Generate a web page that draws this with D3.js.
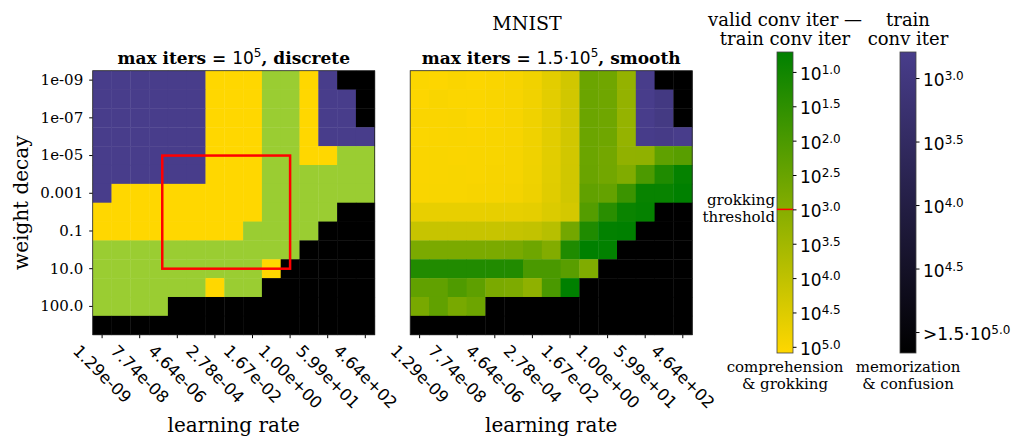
<!DOCTYPE html>
<html>
<head>
<meta charset="utf-8">
<script src="https://cdn.jsdelivr.net/npm/d3@7"></script>
<style>
  body { margin: 0; background: #fff; }
  svg { display: block; }
</style>
</head>
<body>
<div id="chart"></div>
<script>
// learning rate labels (every other column), weight decay labels (every other row)
const lrLabels = ["1.29e-09", "7.74e-08", "4.64e-06", "2.78e-04", "1.67e-02", "1.00e+00", "5.99e+01", "4.64e+02"];
const wdLabels = ["1e-09", "1e-07", "1e-05", "0.001", "0.1", "10.0", "100.0"];
const nCols = 15, nRows = 14;

// discrete map: P memorization, Y comprehension, G grokking, B confusion
const discreteRows = [
  "PPPPPPYYYGGYPBB",
  "PPPPPPYYYGGYPPB",
  "PPPPPPYYYGGYPPB",
  "PPPPPPYYYGGYPPP",
  "PPPPPPYYYGGYYGG",
  "PPPPPPYYYGGGGGG",
  "PYYYYYYYYGGGGGG",
  "YYYYYYYYYGGGGBB",
  "YYYYYYYYGGGGBBB",
  "GGGGGGGGGGGBBBB",
  "GGGGGGGGGYBBBBB",
  "GGGGGGYGGBBBBBB",
  "GGGGBBBBBBBBBBB",
  "BBBBBBBBBBBBBBB"
];

// smooth map: log10(valid conv iter - train conv iter); null = not converged
const smoothGrok = [
  [5.02, 5.05, 5.00, 5.04, 5.00, 4.95, 4.85, 4.61, 4.30, 2.55, 2.64, 3.25, null, null, null],
  [5.05, 4.98, 5.02, 5.02, 4.98, 4.95, 4.85, 4.61, 4.30, 2.55, 2.62, 3.25, null, null, null],
  [5.00, 5.00, 4.98, 5.03, 5.00, 4.96, 4.84, 4.61, 4.30, 2.55, 2.62, 3.27, null, null, null],
  [5.02, 5.00, 4.98, 5.00, 4.97, 4.95, 4.84, 4.60, 4.30, 2.55, 2.62, 3.27, null, null, null],
  [5.00, 4.98, 5.00, 4.98, 4.97, 4.93, 4.83, 4.60, 4.30, 2.55, 2.68, 3.20, 3.18, 2.35, 2.22],
  [5.00, 4.98, 4.97, 4.98, 4.95, 4.93, 4.82, 4.58, 4.28, 2.53, 2.66, 2.90, 2.02, 1.24, 0.80],
  [4.98, 4.97, 4.97, 4.95, 4.93, 4.90, 4.80, 4.55, 4.28, 2.37, 2.42, 1.72, 0.84, 0.84, 0.71],
  [4.70, 4.70, 4.70, 4.70, 4.68, 4.68, 4.65, 4.48, 4.35, 2.15, 1.41, 0.89, 0.80, null, null],
  [4.13, 4.13, 4.13, 4.12, 4.12, 4.10, 4.04, 3.86, 2.68, 1.24, 0.75, 0.71, null, null, null],
  [2.83, 2.83, 2.83, 2.83, 2.82, 2.79, 2.60, 2.95, 1.24, 0.71, 0.75, null, null, null, null],
  [1.28, 1.28, 1.28, 1.28, 1.28, 1.28, 1.98, 1.98, 2.24, 2.90, null, null, null, null, null],
  [2.37, 2.37, 2.07, 2.33, 2.81, 2.85, 3.16, 1.98, 0.71, null, null, null, null, null, null],
  [2.77, 2.37, 2.77, 2.59, null, null, null, null, null, null, null, null, null, null, null],
  [null, null, null, null, null, null, null, null, null, null, null, null, null, null, null]
];
// memorization cells of the smooth map: [row, col, log10(train conv iter)]
const smoothMem = [
  [0, 12, 2.80],
  [1, 12, 2.80], [1, 13, 2.95],
  [2, 12, 2.80], [2, 13, 2.93],
  [3, 12, 2.82], [3, 13, 2.86], [3, 14, 2.80]
];

// red box on the discrete map, in cell-centre coordinates
const boxLr = [3.2, 10.0], boxWd = [4.0, 10.0];

const grokTicks = [1, 1.5, 2, 2.5, 3, 3.5, 4, 4.5, 5];
const memTicks = [3, 3.5, 4, 4.5, 5];
const grokThreshold = 3;

const W = 1019, H = 437;
const serif = "'DejaVu Serif', serif";
const sans = "'DejaVu Sans', sans-serif";

const svg = d3.select("#chart").append("svg")
  .attr("width", W)
  .attr("height", H);

const mapW = 282, mapH = 264, mapTop = 70.7;

const x = d3.scaleBand().domain(d3.range(nCols)).range([0, mapW]);
const y = d3.scaleBand().domain(d3.range(nRows)).range([0, mapH]);
// centre coordinates for the red box
const xc = d3.scaleLinear().domain([-0.5, nCols - 0.5]).range([0, mapW]);
const yc = d3.scaleLinear().domain([-0.5, nRows - 0.5]).range([0, mapH]);

const catColor = { P: "#483d8b", Y: "#ffd700", G: "#9acd32", B: "#000000" };
const grokColor = d3.scaleLinear().domain([0.71, 5.09]).range(["#008000", "#ffd700"]).clamp(true);
const memColor = d3.scaleLinear().domain([2.795, 5.165]).range(["#483d8b", "#000000"]).clamp(true);

function addAxes(g, withY) {
  const xAxis = g.append("g")
    .attr("transform", "translate(0," + mapH + ")")
    .call(d3.axisBottom(x)
      .tickValues(d3.range(0, nCols, 2))
      .tickFormat(i => lrLabels[i / 2])
      .tickSize(3.5)
      .tickSizeOuter(0));
  xAxis.select(".domain").remove();
  xAxis.selectAll("text")
    .style("font-family", sans)
    .style("font-size", "16.5px")
    .attr("fill", "#000")
    .attr("y", null)
    .attr("dy", null)
    .attr("text-anchor", "middle")
    .style("dominant-baseline", "central")
    .attr("transform", function() {
      const L = this.getComputedTextLength();
      const half = (L + 18) / (2 * Math.SQRT2);
      return "translate(0," + (7 + half) + ") rotate(45)";
    });

  if (withY) {
    const yAxis = g.append("g")
      .call(d3.axisLeft(y)
        .tickValues(d3.range(0, nRows - 1, 2))
        .tickFormat(i => wdLabels[i / 2])
        .tickSize(3.5)
        .tickPadding(6)
        .tickSizeOuter(0));
    yAxis.select(".domain").remove();
    yAxis.selectAll("text")
      .style("font-family", serif)
      .style("font-size", "15px")
      .attr("fill", "#000");
  }

  g.append("rect")
    .attr("width", mapW)
    .attr("height", mapH)
    .attr("fill", "none")
    .attr("stroke", "#222")
    .attr("stroke-width", 0.8);

  g.append("text")
    .attr("x", mapW / 2)
    .attr("y", mapH + 97)
    .attr("text-anchor", "middle")
    .style("font-family", serif)
    .style("font-size", "20px")
    .text("learning rate");
}

function addTitle(g, pre, base, sup, post) {
  const t = g.append("text")
    .attr("x", mapW / 2)
    .attr("y", -7)
    .attr("text-anchor", "middle")
    .style("font-size", "17px");
  t.append("tspan").style("font-family", serif).style("font-weight", "bold").text(pre);
  t.append("tspan").style("font-family", sans).text(base);
  t.append("tspan").style("font-family", sans).style("font-size", "12px").attr("dy", -7).text(sup);
  t.append("tspan").style("font-family", serif).style("font-weight", "bold").attr("dy", 7).text(post);
}

// ---- left: discrete ----
const gL = svg.append("g").attr("transform", "translate(92.7," + mapTop + ")");
const discCells = [];
discreteRows.forEach((row, r) => row.split("").forEach((c, k) => discCells.push({ r: r, c: k, v: c })));
gL.selectAll("rect.cell")
  .data(discCells)
  .enter()
  .append("rect")
    .attr("class", "cell")
    .attr("x", d => x(d.c))
    .attr("y", d => y(d.r))
    .attr("width", x.bandwidth() + 0.4)
    .attr("height", y.bandwidth() + 0.4)
    .attr("fill", d => catColor[d.v]);

gL.append("rect")
  .attr("x", xc(boxLr[0]))
  .attr("y", yc(boxWd[0]))
  .attr("width", xc(boxLr[1]) - xc(boxLr[0]))
  .attr("height", yc(boxWd[1]) - yc(boxWd[0]))
  .attr("fill", "none")
  .attr("stroke", "#ff0000")
  .attr("stroke-width", 2.5);

addAxes(gL, true);
addTitle(gL, "max iters = ", "10", "5", ", discrete");

gL.append("text")
  .attr("transform", "translate(-65," + (mapH / 2) + ") rotate(-90)")
  .attr("text-anchor", "middle")
  .style("font-family", serif)
  .style("font-size", "20px")
  .text("weight decay");

// ---- right: smooth ----
const gR = svg.append("g").attr("transform", "translate(410.2," + mapTop + ")");
const smoothCells = [];
smoothGrok.forEach((row, r) => row.forEach((v, k) => smoothCells.push({ r: r, c: k, v: v, mem: null })));
smoothMem.forEach(m => { smoothCells[m[0] * nCols + m[1]].mem = m[2]; });
gR.selectAll("rect.cell")
  .data(smoothCells)
  .enter()
  .append("rect")
    .attr("class", "cell")
    .attr("x", d => x(d.c))
    .attr("y", d => y(d.r))
    .attr("width", x.bandwidth() + 0.4)
    .attr("height", y.bandwidth() + 0.4)
    .attr("fill", d => d.v != null ? grokColor(d.v) : (d.mem != null ? memColor(d.mem) : "#000"));

addAxes(gR, false);
addTitle(gR, "max iters = ", "1.5\u00b710", "5", ", smooth");

svg.append("text")
  .attr("x", 527)
  .attr("y", 30)
  .attr("text-anchor", "middle")
  .style("font-family", serif)
  .style("font-size", "19px")
  .text("MNIST");

// ---- colorbars ----
const barTop = 52, barBot = 353, barW = 16;
const defs = svg.append("defs");
function gradient(id, c0, c1) {
  const lg = defs.append("linearGradient").attr("id", id)
    .attr("x1", 0).attr("y1", 0).attr("x2", 0).attr("y2", 1);
  lg.append("stop").attr("offset", "0%").attr("stop-color", c0);
  lg.append("stop").attr("offset", "100%").attr("stop-color", c1);
}
gradient("gGrok", grokColor.range()[0], grokColor.range()[1]);
gradient("gMem", memColor.range()[0], memColor.range()[1]);

function colorbar(x0, scaleColor, grad, ticks, labelFn, title, foot) {
  const s = d3.scaleLinear().domain(scaleColor.domain()).range([barTop, barBot]);
  const g = svg.append("g").attr("transform", "translate(" + x0 + ",0)");
  g.append("rect")
    .attr("y", barTop).attr("width", barW).attr("height", barBot - barTop)
    .attr("fill", "url(#" + grad + ")")
    .attr("stroke", "#444").attr("stroke-width", 0.8);
  const ax = g.append("g")
    .attr("transform", "translate(" + barW + ",0)")
    .call(d3.axisRight(s).tickValues(ticks).tickSize(3.5).tickPadding(3.5).tickSizeOuter(0));
  ax.select(".domain").remove();
  ax.selectAll("text")
    .text(null)
    .attr("fill", "#000")
    .attr("dy", "0.44em")
    .style("font-family", sans)
    .style("font-size", "17px")
    .each(function(d, i) {
      const t = d3.select(this);
      t.append("tspan").text(labelFn(d, i));
      t.append("tspan").attr("dy", -6).style("font-size", "12px").text(d.toFixed(1));
    });
  title.forEach((line, i) => {
    g.append("text")
      .attr("x", barW / 2).attr("y", 26 + i * 19)
      .attr("text-anchor", "middle")
      .style("font-family", serif).style("font-size", "18px")
      .text(line);
  });
  foot.forEach((line, i) => {
    g.append("text")
      .attr("x", barW / 2).attr("y", 372 + i * 16.5)
      .attr("text-anchor", "middle")
      .style("font-family", serif).style("font-size", "15px")
      .text(line);
  });
  return { g: g, s: s };
}

const cbGrok = colorbar(777, grokColor, "gGrok", grokTicks, () => "10",
  ["valid conv iter \u2014", "train conv iter"], ["comprehension", "& grokking"]);
const cbMem = colorbar(900, memColor, "gMem", memTicks,
  (d, i) => i === memTicks.length - 1 ? ">1.5\u00b710" : "10",
  ["train", "conv iter"], ["memorization", "& confusion"]);

// grokking threshold marker
cbGrok.g.append("line")
  .attr("x1", 0).attr("x2", barW)
  .attr("y1", cbGrok.s(grokThreshold)).attr("y2", cbGrok.s(grokThreshold))
  .attr("stroke", "#ff0000").attr("stroke-width", 1.5);
["grokking", "threshold"].forEach((line, i) => {
  cbGrok.g.append("text")
    .attr("x", -2).attr("y", cbGrok.s(grokThreshold) - 4 + i * 17)
    .attr("text-anchor", "end")
    .style("font-family", serif).style("font-size", "15px")
    .text(line);
});
</script>
</body>
</html>
